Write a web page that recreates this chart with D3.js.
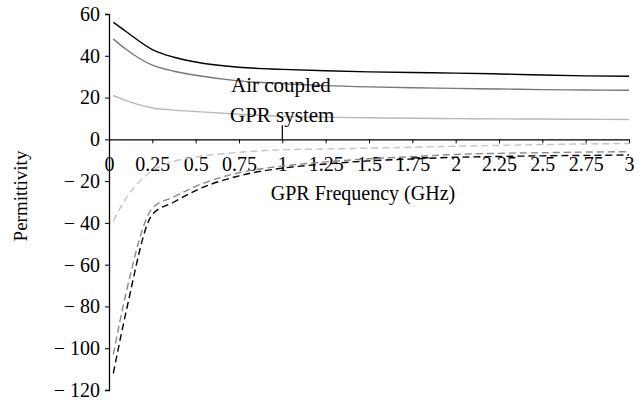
<!DOCTYPE html>
<html>
<head>
<meta charset="utf-8">
<script src="https://cdn.jsdelivr.net/npm/d3@7"></script>
<style>
  body { margin: 0; background: #fff; }
  svg text { font-family: "Liberation Serif", "DejaVu Serif", serif; }
</style>
</head>
<body>
<svg width="643" height="404"></svg>
<script>
// frequency in GHz
var freq = [0.025, 0.1, 0.25, 0.375, 0.5, 0.75, 1, 1.25, 1.5, 1.75, 2, 2.25, 2.5, 2.75, 3];

// real part (solid)
var realBlack = [56, 51.5, 43, 39.3, 37, 34.5, 33.5, 32.8, 32.3, 32, 31.7, 31.3, 30.8, 30.4, 30.2];
var realGray  = [48, 43, 35.5, 32.6, 30.7, 28, 26.7, 25.7, 25.1, 24.7, 24.4, 24.1, 23.8, 23.6, 23.5];
var realLight = [21, 18.5, 15, 14, 13.3, 12, 11, 10.6, 10.3, 10.1, 9.9, 9.8, 9.7, 9.6, 9.5];

// imaginary part (dashed)
var imagBlack = [-112, -82, -36, -30, -24.5, -17.5, -13.8, -11.8, -10.3, -9.4, -8.6, -8.2, -7.9, -7.7, -7.5];
var imagGray  = [-103, -73, -33, -27.5, -22.5, -16, -12.8, -10.8, -9.3, -8.3, -7.2, -6.7, -6.4, -6.1, -5.9];
var imagLight = [-39, -28, -15, -10.5, -8.5, -6.2, -5, -4.6, -4.2, -3.8, -3.3, -2.9, -2.5, -2.2, -2];

var xTicks = [0, 0.25, 0.5, 0.75, 1, 1.25, 1.5, 1.75, 2, 2.25, 2.5, 2.75, 3];
var yTicks = [60, 40, 20, 0, -20, -40, -60, -80, -100, -120];

var svg = d3.select("svg");

var x = d3.scaleLinear().domain([0, 3]).range([109, 629]);
var y = d3.scaleLinear().domain([-120, 60]).range([390, 14]);

var fontSize = "20px";

// y axis
var yAxis = svg.append("g")
    .attr("transform", "translate(" + x(0) + ",0)")
    .call(d3.axisLeft(y).tickValues(yTicks).tickSize(4).tickPadding(5)
        .tickFormat(function(d) { return d < 0 ? "\u2212 " + Math.abs(d) : d; }));
yAxis.select(".domain").attr("stroke", "#000").attr("stroke-width", 1.3);
yAxis.selectAll("text").attr("font-size", fontSize).attr("font-family", "Liberation Serif").attr("fill", "#000");

// x axis through zero
var xAxis = svg.append("g")
    .attr("transform", "translate(0," + y(0) + ")")
    .call(d3.axisBottom(x).tickValues(xTicks).tickSize(4).tickPadding(13)
        .tickSizeOuter(0)
        .tickFormat(function(d) { return d; }));
xAxis.select(".domain").attr("stroke", "#000").attr("stroke-width", 1.3);
xAxis.selectAll("text").attr("font-size", fontSize).attr("font-family", "Liberation Serif").attr("fill", "#000");

var line = d3.line()
    .x(function(d) { return x(d[0]); })
    .y(function(d) { return y(d[1]); })
    .curve(d3.curveMonotoneX);

var series = [
    { v: realLight, color: "#b8b8b8", dash: null },
    { v: realGray,  color: "#777777", dash: null },
    { v: realBlack, color: "#000000", dash: null },
    { v: imagLight, color: "#c4c4c4", dash: "7,4" },
    { v: imagGray,  color: "#8a8a8a", dash: "7,4" },
    { v: imagBlack, color: "#000000", dash: "7,4" }
];

series.forEach(function(s) {
    var pts = freq.map(function(f, i) { return [f, s.v[i]]; });
    svg.append("path")
        .datum(pts)
        .attr("d", line)
        .style("fill", "none")
        .style("stroke", s.color)
        .style("stroke-width", 1.4)
        .style("stroke-dasharray", s.dash);
});

// annotation
svg.append("line")
    .attr("x1", x(1)).attr("x2", x(1))
    .attr("y1", y(0)).attr("y2", y(6.7))
    .attr("stroke", "#000").attr("stroke-width", 1.2);

svg.append("text")
    .attr("x", 231).attr("y", 92)
    .attr("font-size", "21px")
    .text("Air coupled");

svg.append("text")
    .attr("x", 230).attr("y", 122)
    .attr("font-size", "21px")
    .text("GPR system");

// axis titles
svg.append("text")
    .attr("x", 363).attr("y", 200)
    .attr("text-anchor", "middle")
    .attr("font-size", fontSize)
    .text("GPR Frequency (GHz)");

svg.append("text")
    .attr("transform", "translate(27,196) rotate(-90)")
    .attr("text-anchor", "middle")
    .attr("font-size", "19px")
    .text("Permittivity");
</script>
</body>
</html>
